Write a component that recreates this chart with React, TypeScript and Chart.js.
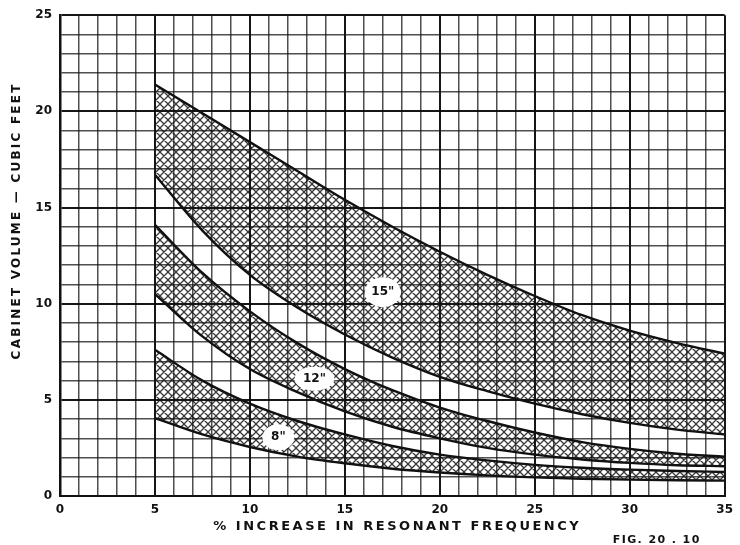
import React, { useEffect, useRef } from 'react';
import { Chart, registerables } from 'chart.js';

Chart.register(...registerables);

// ---- data ----
const xValues = [5, 7.5, 10, 12.5, 15, 17.5, 20, 22.5, 25, 27.5, 30, 32.5, 35];
const upper15 = [21.4, 19.9, 18.4, 16.9, 15.4, 14.0, 12.7, 11.5, 10.4, 9.4, 8.6, 7.95, 7.4];
const lower15 = [16.7, 13.8, 11.5, 9.8, 8.4, 7.2, 6.2, 5.45, 4.8, 4.25, 3.8, 3.45, 3.2];
const upper12 = [14.1, 11.6, 9.6, 7.95, 6.6, 5.5, 4.6, 3.9, 3.3, 2.8, 2.45, 2.2, 2.05];
const lower12 = [10.5, 8.3, 6.6, 5.4, 4.4, 3.6, 3.0, 2.5, 2.15, 1.9, 1.72, 1.6, 1.55];
const upper8 = [7.6, 6.0, 4.8, 3.9, 3.2, 2.6, 2.15, 1.85, 1.62, 1.47, 1.37, 1.3, 1.25];
const lower8 = [4.05, 3.2, 2.55, 2.05, 1.7, 1.42, 1.22, 1.07, 0.97, 0.9, 0.85, 0.82, 0.8];

const bandLabels = ['15"', '12"', '8"'];
const bandLabelX = [17, 13.4, 11.5];
const bandLabelY = [10.6, 6.1, 3.05];

const yTitle = 'CABINET VOLUME — CUBIC FEET';
const xTitle = '% INCREASE IN RESONANT FREQUENCY';
const figLabel = 'FIG. 20 . 10';

const toPoints = (ys: number[]) => xValues.map((x, i) => ({ x, y: ys[i] }));

function makeHatch(): CanvasPattern | string {
  const c = document.createElement('canvas');
  const s = 8;
  c.width = s;
  c.height = s;
  const g = c.getContext('2d');
  if (!g) return 'rgba(0,0,0,0.3)';
  g.strokeStyle = 'rgba(20,20,20,0.85)';
  g.lineWidth = 1.25;
  g.beginPath();
  g.moveTo(0, 0); g.lineTo(s, s);
  g.moveTo(s, 0); g.lineTo(0, s);
  g.moveTo(-1, s - 1); g.lineTo(1, s + 1);
  g.moveTo(s - 1, -1); g.lineTo(s + 1, 1);
  g.stroke();
  const p = g.createPattern(c, 'repeat');
  return p || 'rgba(0,0,0,0.3)';
}

const ellipseSizes = [[18, 15], [20, 12], [16, 13]];

const labelPlugin = {
  id: 'bandLabels',
  afterDatasetsDraw(chart: any) {
    const { ctx, scales } = chart;
    ctx.save();
    bandLabels.forEach((t, i) => {
      const px = scales.x.getPixelForValue(bandLabelX[i]);
      const py = scales.y.getPixelForValue(bandLabelY[i]);
      const [rx, ry] = ellipseSizes[i];
      ctx.fillStyle = '#ffffff';
      ctx.beginPath();
      ctx.ellipse(px, py, rx, ry, 0, 0, Math.PI * 2);
      ctx.fill();
      ctx.fillStyle = '#111';
      ctx.font = 'bold 12px "DejaVu Sans"';
      ctx.textAlign = 'center';
      ctx.textBaseline = 'middle';
      ctx.fillText(t, px, py);
    });
    ctx.restore();
  },
};

function spacedText(ctx: CanvasRenderingContext2D, text: string, target: number) {
  (ctx as any).letterSpacing = '0px';
  const w = ctx.measureText(text).width;
  const sp = Math.max(0, (target - w) / text.length);
  (ctx as any).letterSpacing = sp + 'px';
  return sp;
}

const titlePlugin = {
  id: 'titles',
  afterDraw(chart: any) {
    const { ctx } = chart;
    ctx.save();
    ctx.fillStyle = '#111';
    ctx.textBaseline = 'middle';
    ctx.textAlign = 'center';
    // y title
    ctx.font = 'bold 12px "DejaVu Sans"';
    ctx.save();
    ctx.translate(17, 222);
    ctx.rotate(-Math.PI / 2);
    const sp1 = spacedText(ctx, yTitle, 277);
    ctx.fillText(yTitle, sp1 / 2, 0);
    ctx.restore();
    // x title
    ctx.font = 'bold 13px "DejaVu Sans"';
    const sp2 = spacedText(ctx, xTitle, 368);
    ctx.fillText(xTitle, 396 + sp2 / 2, 527);
    // fig label
    ctx.font = 'bold 11px "DejaVu Sans"';
    const sp3 = spacedText(ctx, figLabel, 88);
    ctx.fillText(figLabel, 656 + sp3 / 2, 540);
    (ctx as any).letterSpacing = '0px';
    ctx.restore();
  },
};

export default function App() {
  const ref = useRef<HTMLCanvasElement | null>(null);
  useEffect(() => {
    if (!ref.current) return;
    const hatch = makeHatch();
    const line = (data: number[], fill: any) => ({
      data: toPoints(data),
      borderColor: '#111',
      borderWidth: 2.4,
      pointRadius: 0,
      cubicInterpolationMode: 'monotone' as const,
      fill,
      backgroundColor: hatch,
    });
    const gridColor = (c: any) =>
      c.tick && c.tick.value % 5 === 0 ? 'rgba(10,10,10,0.95)' : 'rgba(20,20,20,0.75)';
    const gridWidth = (c: any) => (c.tick && c.tick.value % 5 === 0 ? 2 : 1.5);
    const tickFont = { family: 'DejaVu Sans', weight: 'bold' as const, size: 12 };
    const chart = new Chart(ref.current, {
      type: 'line',
      data: {
        datasets: [
          line(upper15, '+1'),
          line(lower15, false),
          line(upper12, '+1'),
          line(lower12, false),
          line(upper8, '+1'),
          line(lower8, false),
        ],
      },
      options: {
        responsive: false,
        animation: false,
        layout: { padding: { top: 15, right: 7, left: 0, bottom: 0 } },
        plugins: { legend: { display: false }, tooltip: { enabled: false } },
        scales: {
          x: {
            type: 'linear',
            min: 0,
            max: 35,
            afterFit: (s: any) => { s.height = 49; },
            grid: { color: gridColor, lineWidth: gridWidth, drawTicks: false },
            border: { display: true, color: '#111', width: 2 },
            ticks: {
              stepSize: 1,
              autoSkip: false,
              maxTicksLimit: 100,
              maxRotation: 0,
              padding: 7,
              color: '#111',
              font: tickFont,
              callback: (v: any) => (Number(v) % 5 === 0 ? String(v) : ''),
            },
          },
          y: {
            type: 'linear',
            min: 0,
            max: 25,
            afterFit: (s: any) => { s.width = 60; },
            grid: { color: gridColor, lineWidth: gridWidth, drawTicks: false },
            border: { display: true, color: '#111', width: 2.5 },
            ticks: {
              stepSize: 1,
              autoSkip: false,
              maxTicksLimit: 100,
              padding: 8,
              color: '#111',
              font: tickFont,
              callback: (v: any) => (Number(v) % 5 === 0 ? String(v) : ''),
            },
          },
        },
      },
      plugins: [labelPlugin, titlePlugin],
    });
    return () => chart.destroy();
  }, []);
  return (
    <div style={{ position: 'fixed', left: 0, top: 0, width: 740, height: 545, background: '#fff' }}>
      <canvas ref={ref} width={740} height={545} />
    </div>
  );
}
